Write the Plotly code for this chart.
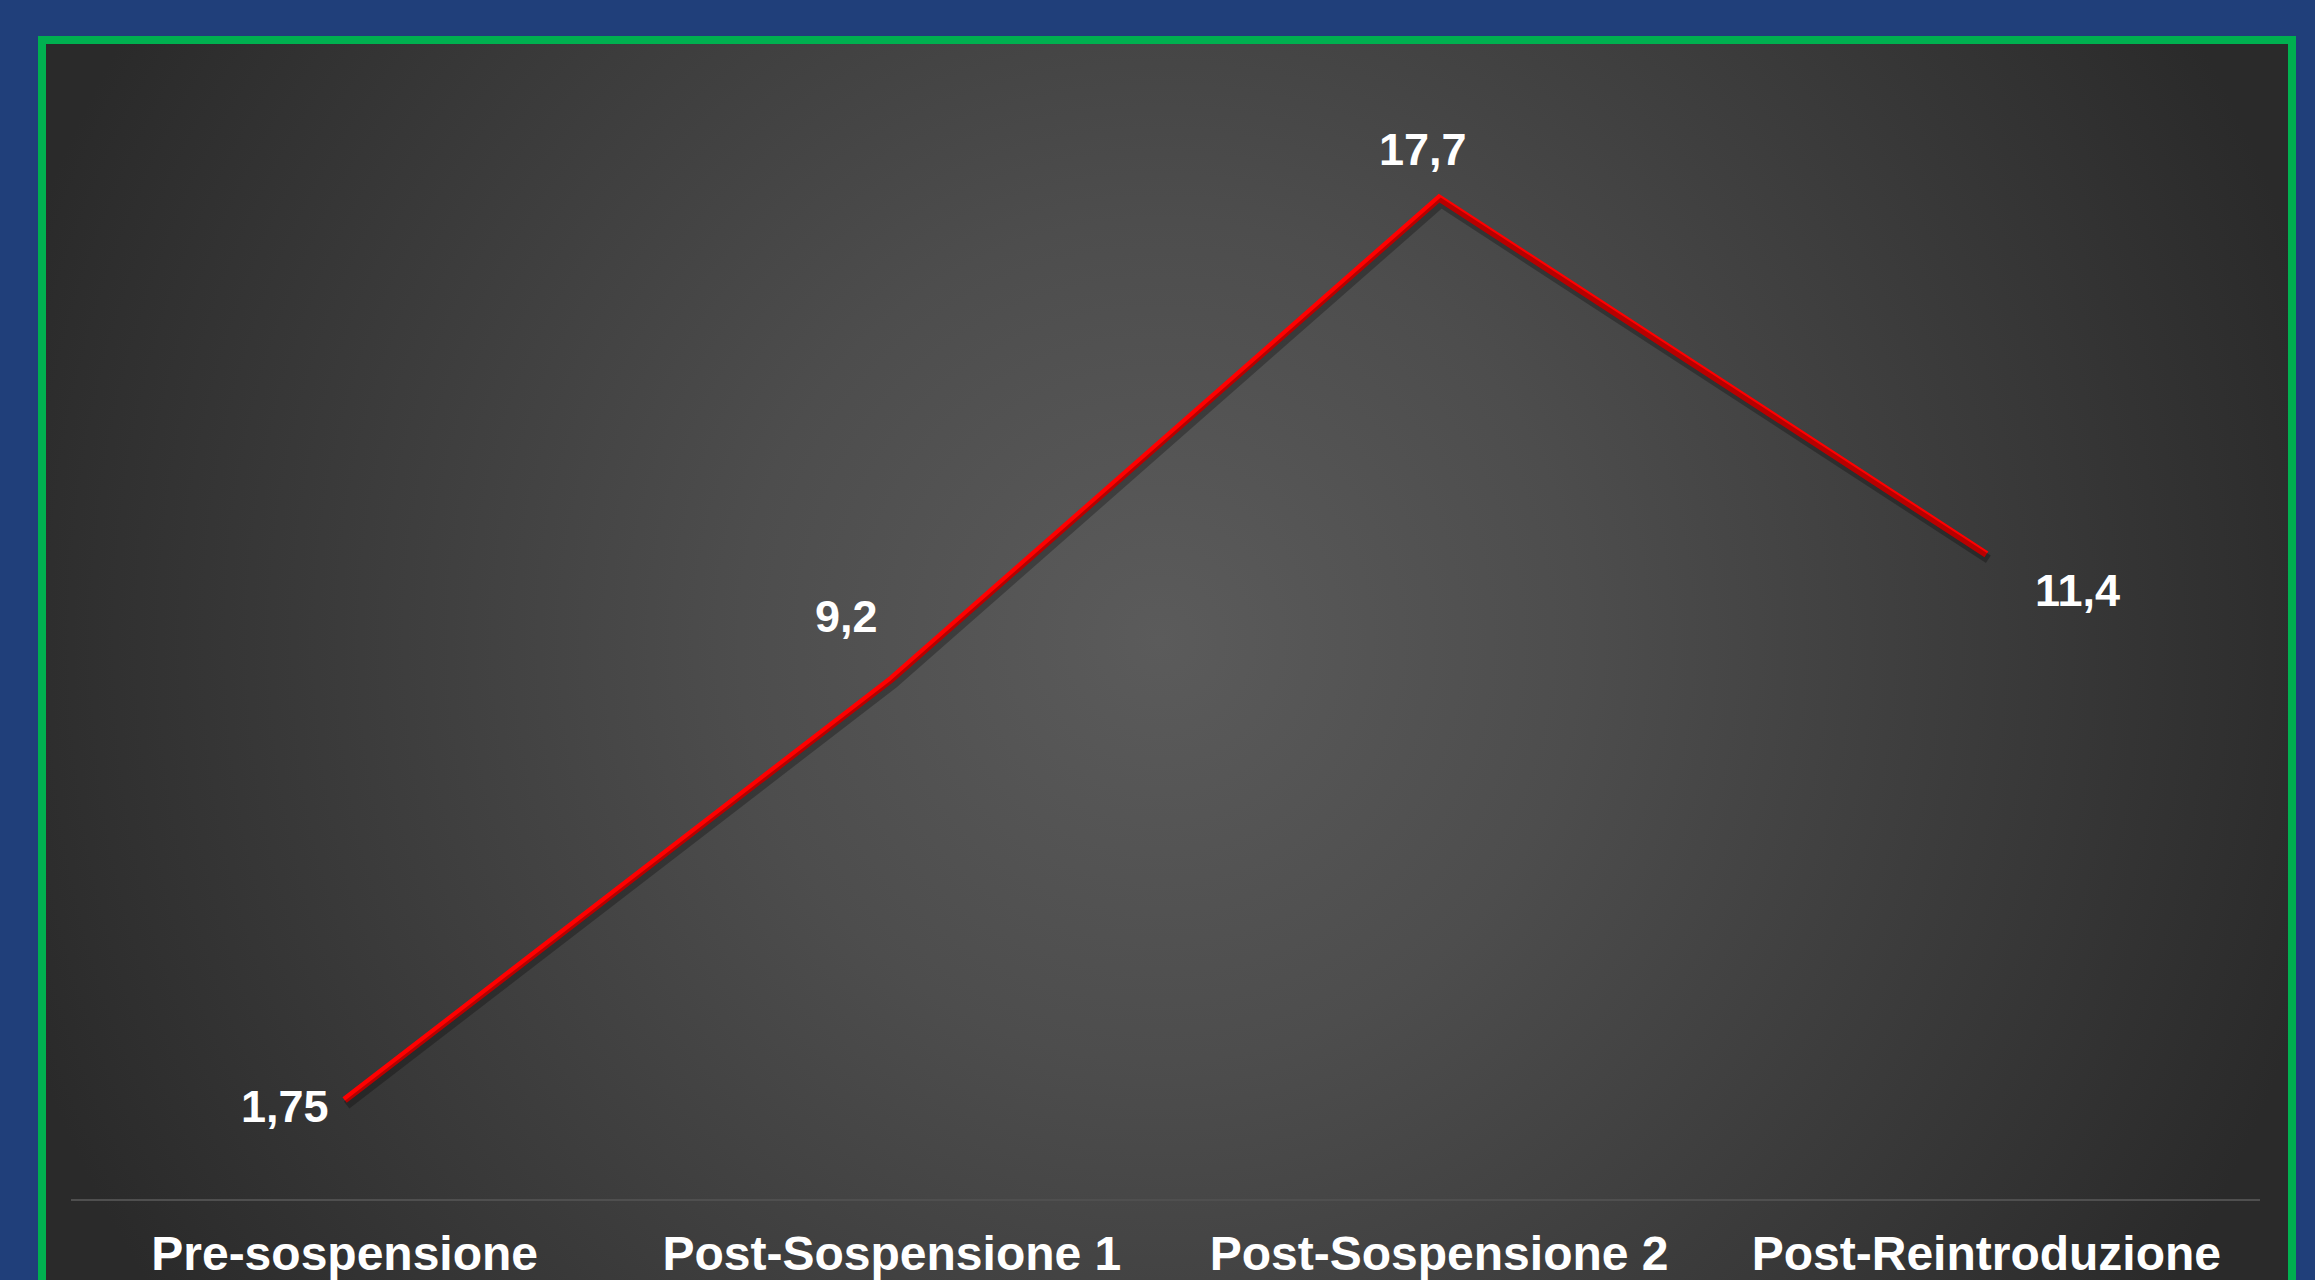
import base64
import plotly.graph_objects as go

# ---- data ----
categories = ["Pre-sospensione", "Post-Sospensione 1", "Post-Sospensione 2", "Post-Reintroduzione"]
values = [1.75, 9.2, 17.7, 11.4]
value_labels = [f"{v}".replace(".", ",") for v in values]
label_shift_x = [-14, -45, -16, 91]
label_shift_y = [-6, 62, 49, -36]
label_anchor = ["right", "center", "center", "center"]

W, H = 2315, 1280
YMAX = 20

# ---- background gradient (inside green frame) ----
bx0, by0, bx1, by1 = 44, 44, 2290, 1280
bw, bh = bx1 - bx0, by1 - by0
svg = f'''<svg xmlns="http://www.w3.org/2000/svg" width="{bw}" height="{bh}" viewBox="0 0 {bw} {bh}">
<defs><radialGradient id="g" gradientUnits="userSpaceOnUse" cx="{1160-bx0}" cy="{640-by0}" r="1200">
<stop offset="0" stop-color="#5b5b5b"/><stop offset="0.35" stop-color="#4d4d4d"/><stop offset="1" stop-color="#2a2a2a"/></radialGradient></defs>
<rect width="{bw}" height="{bh}" fill="url(#g)"/></svg>'''
src = "data:image/svg+xml;base64," + base64.b64encode(svg.encode()).decode()

x_idx = list(range(len(categories)))

fig = go.Figure()
# shadow
fig.add_trace(go.Scatter(x=x_idx, y=values, mode="lines", xaxis="x2", yaxis="y2",
                         line=dict(color="rgba(0,0,0,0.28)", width=9), hoverinfo="skip",
                         showlegend=False))
# main line
fig.add_trace(go.Scatter(x=x_idx, y=values, mode="lines",
                         line=dict(color="#FF0000", width=7), showlegend=False))

for i, (v, t) in enumerate(zip(values, value_labels)):
    fig.add_annotation(x=i, y=v, text=t, showarrow=False, xanchor=label_anchor[i], yanchor="middle",
                       xshift=label_shift_x[i], yshift=label_shift_y[i],
                       font=dict(family="Liberation Sans", size=45, color="white", weight="bold"))

xd = [71 / W, 2260 / W]
yd = [(H - 1199) / H, (H - 68) / H]
dx = 2 / 547.0
dy = 5 / 56.55

fig.update_layout(
    width=W, height=H,
    margin=dict(l=0, r=0, t=0, b=0, autoexpand=False),
    paper_bgcolor="#203F7A",
    plot_bgcolor="rgba(0,0,0,0)",
    xaxis=dict(domain=xd, range=[-0.5, 3.5], tickvals=x_idx, ticktext=categories,
               showgrid=False, zeroline=False, showline=True, linecolor="#4f4f4f", linewidth=2,
               ticks="", ticklabelstandoff=11, automargin=False,
               tickfont=dict(family="Liberation Sans", size=48, color="white", weight="bold")),
    yaxis=dict(domain=yd, range=[0, YMAX], showgrid=False, zeroline=False, showticklabels=False,
               showline=False, automargin=False),
    xaxis2=dict(domain=xd, range=[-0.5 - dx, 3.5 - dx], overlaying="x", visible=False),
    yaxis2=dict(domain=yd, range=[dy, YMAX + dy], overlaying="y", visible=False),
    images=[dict(source=src, xref="paper", yref="paper", x=bx0 / W, y=1 - by0 / H,
                 sizex=bw / W, sizey=bh / H, xanchor="left", yanchor="top",
                 sizing="stretch", layer="below")],
    shapes=[dict(type="rect", xref="paper", yref="paper", x0=42 / W, x1=2292 / W,
                 y0=-0.02, y1=1 - 40 / H, line=dict(color="#00B050", width=8), layer="above")],
)

fig.write_html("out.html")
